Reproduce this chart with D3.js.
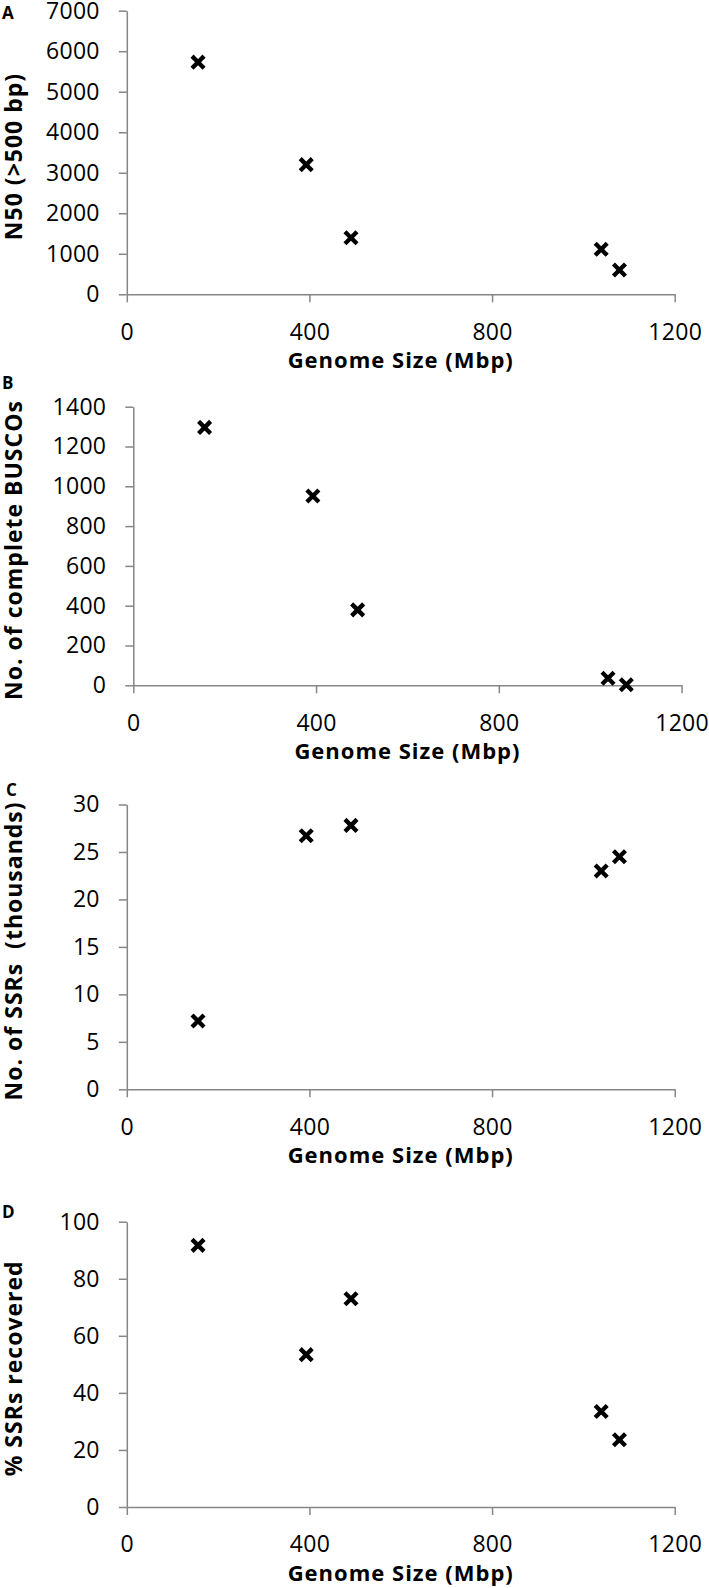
<!DOCTYPE html>
<html>
<head>
<meta charset="utf-8">
<script src="https://cdn.jsdelivr.net/npm/d3@7"></script>
<style>
  body { margin: 0; background: #fff; }
  svg { display: block; }
  .tick text { font-family: "Open Sans", sans-serif; font-size: 23px; fill: #000; letter-spacing: 0.3px; }
  .axtitle { font-family: "Open Sans", sans-serif; font-size: 22px; font-weight: bold; fill: #000; letter-spacing: 1px; white-space: pre; }
  .ytitle { font-size: 23px; }
  .letter { font-family: "Open Sans", sans-serif; font-size: 17px; font-weight: bold; fill: #000; }
</style>
</head>
<body>
<svg id="fig"></svg>
<script>
// genome sizes (Mbp), same five assemblies in every panel
var genomeSize = [156, 393, 491, 1039, 1079];
var n50 = [5730, 3200, 1395, 1110, 600];
var completeBuscos = [1296, 951, 379, 35, 3];
var ssrThousands = [7.2, 26.7, 27.8, 23.0, 24.5];
var ssrRecovered = [91.7, 53.4, 73.0, 33.5, 23.6];

var xTicks = [0, 400, 800, 1200];
var xLabel = 'Genome Size (Mbp)';

var W = 709, H = 1588;

var svg = d3.select('#fig')
    .attr('width', W)
    .attr('height', H);

// one entry per panel: values + placement
var panels = [
    {letter: 'A', values: n50, ymax: 7000, ystep: 1000, ylabel: 'N50 (>500 bp)',
     left: 126.8, right: 674.7, top: 10.7, bottom: 294.3, letterX: 2, letterY: 19},
    {letter: 'B', values: completeBuscos, ymax: 1400, ystep: 200, ylabel: 'No. of complete BUSCOs',
     left: 133.3, right: 681.6, top: 406.7, bottom: 685.3, letterX: 2, letterY: 389},
    {letter: 'C', values: ssrThousands, ymax: 30, ystep: 5, ylabel: 'No. of SSRs  (thousands)',
     left: 126.8, right: 674.7, top: 804.5, bottom: 1089.3, letterX: 6, letterY: 796},
    {letter: 'D', values: ssrRecovered, ymax: 100, ystep: 20, ylabel: '% SSRs recovered',
     left: 126.8, right: 674.7, top: 1221.7, bottom: 1507, letterX: 2, letterY: 1218}
];

panels.forEach(function(p) {
    var x = d3.scaleLinear().domain([0, 1200]).range([p.left, p.right]);
    var y = d3.scaleLinear().domain([0, p.ymax]).range([p.bottom, p.top]);

    var g = svg.append('g').attr('class', 'panel');

    var yAxis = d3.axisLeft(y)
        .tickValues(d3.range(0, p.ymax + p.ystep / 2, p.ystep))
        .tickFormat(d3.format('d'))
        .tickSize(8)
        .tickSizeOuter(0)
        .tickPadding(19);

    var xAxis = d3.axisBottom(x)
        .tickValues(xTicks)
        .tickFormat(d3.format('d'))
        .tickSize(8)
        .tickSizeOuter(0)
        .tickPadding(21);

    var ya = g.append('g')
        .attr('transform', 'translate(' + p.left + ',0)')
        .call(yAxis);

    var xa = g.append('g')
        .attr('transform', 'translate(0,' + p.bottom + ')')
        .call(xAxis);

    [ya, xa].forEach(function(a) {
        a.select('.domain').attr('stroke', '#868686').attr('stroke-width', 1.5);
        a.selectAll('.tick line').attr('stroke', '#868686').attr('stroke-width', 1.5);
        a.attr('font-family', null).attr('font-size', null);
    });

    // x title
    g.append('text')
        .attr('class', 'axtitle')
        .attr('x', (p.left + p.right) / 2)
        .attr('y', p.bottom + 74)
        .attr('text-anchor', 'middle')
        .text(xLabel);

    // y title
    g.append('text')
        .attr('class', 'axtitle ytitle')
        .attr('text-anchor', 'middle')
        .attr('transform', 'translate(21.5,' + ((p.top + p.bottom) / 2 + 4) + ')rotate(-90)')
        .text(p.ylabel);

    g.append('text')
        .attr('class', 'letter')
        .attr('x', p.letterX)
        .attr('y', p.letterY)
        .text(p.letter);

    var pts = genomeSize.map(function(s, i) { return {size: s, value: p.values[i]}; });

    g.append('g')
        .selectAll('path')
        .data(pts)
        .enter().append('path')
        .attr('transform', function(d) { return 'translate(' + x(d.size) + ',' + y(d.value) + ')'; })
        .attr('d', d3.symbol().type(d3.symbolX).size(96))
        .attr('fill', 'none')
        .attr('stroke', '#000')
        .attr('stroke-width', 4.3);
});
</script>
</body>
</html>
